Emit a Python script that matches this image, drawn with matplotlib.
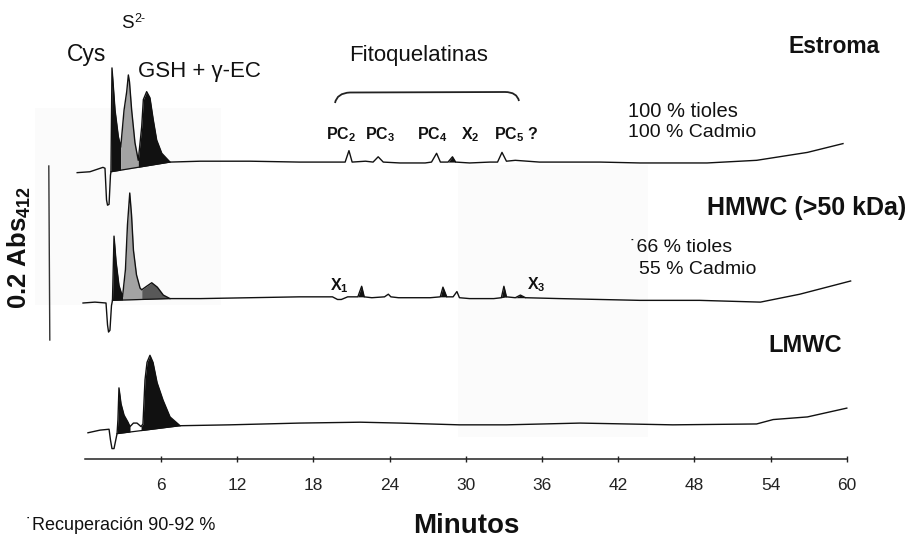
import numpy as np
import matplotlib
matplotlib.use("Agg")
import matplotlib.pyplot as plt
from matplotlib.path import Path
from matplotlib.patches import PathPatch, Rectangle

plt.rcParams['font.family'] = ['Liberation Sans', 'DejaVu Sans']
plt.rcParams['mathtext.fontset'] = 'custom'
plt.rcParams['mathtext.rm'] = 'Liberation Sans'
plt.rcParams['mathtext.bf'] = 'Liberation Sans:bold'

# retention time (min) and absorbance above each trace's own zero (Abs412)
estroma_t = [-0.6, 0.4, 1.43, 1.59, 1.71, 1.79, 1.91, 2.02, 2.06, 2.14, 2.38, 2.64, 2.83,
             3.09, 3.30, 3.43, 3.52, 3.69, 3.95, 4.21, 4.48, 4.61, 4.87, 5.13, 5.39, 5.66,
             6.06, 6.71, 9.1, 13.0, 16.9, 20.1, 20.5, 20.8, 21.05, 22.1, 22.7, 23.1, 23.5,
             24.8, 26.8, 27.3, 27.7, 28.0, 28.6, 28.95, 29.2, 30.3, 31.9, 32.5, 32.85, 33.2,
             33.9, 35.8, 40.6, 43.7, 49.0, 52.9, 56.9, 59.7]
estroma_a = [-0.003, -0.002, 0.003, 0.002, -0.034, -0.040, -0.039, -0.006, -0.002, 0.116,
             0.068, 0.038, 0.026, 0.068, 0.089, 0.108, 0.100, 0.068, 0.031, 0.011, 0.049,
             0.080, 0.089, 0.082, 0.057, 0.034, 0.019, 0.009, 0.010, 0.010, 0.009, 0.009,
             0.009, 0.022, 0.009, 0.010, 0.009, 0.015, 0.009, 0.008, 0.008, 0.009, 0.019,
             0.009, 0.009, 0.015, 0.009, 0.008, 0.009, 0.009, 0.020, 0.010, 0.011, 0.009,
             0.009, 0.008, 0.008, 0.011, 0.020, 0.030]

hmwc_t = [-0.14, 0.8, 1.67, 1.79, 1.87, 1.98, 2.10, 2.18, 2.30, 2.46, 2.69, 2.97, 3.20,
          3.36, 3.54, 3.68, 3.83, 4.07, 4.35, 4.48, 4.87, 5.27, 5.71, 6.18, 6.71, 9.1,
          13.0, 16.9, 19.5, 19.9, 20.2, 20.7, 21.5, 21.8, 22.0, 22.6, 23.6, 23.9, 24.1,
          24.7, 27.2, 27.99, 28.2, 28.5, 29.0, 29.3, 29.5, 30.3, 32.2, 32.8, 33.0, 33.2,
          33.9, 34.3, 34.7, 37.4, 43.7, 48.4, 53.2, 56.3, 60.3]
hmwc_a = [0.000, 0.001, 0.000, -0.025, -0.033, -0.031, -0.003, 0.003, 0.076, 0.047, 0.020,
          0.007, 0.038, 0.089, 0.125, 0.100, 0.060, 0.032, 0.017, 0.015, 0.019, 0.023,
          0.018, 0.009, 0.005, 0.005, 0.006, 0.007, 0.007, 0.004, 0.004, 0.007, 0.007,
          0.019, 0.007, 0.006, 0.007, 0.010, 0.007, 0.006, 0.006, 0.007, 0.018, 0.007,
          0.007, 0.013, 0.006, 0.005, 0.005, 0.006, 0.019, 0.007, 0.006, 0.009, 0.006,
          0.005, 0.003, 0.003, 0.001, 0.010, 0.025]

lmwc_t = [0.25, 1.2, 1.91, 2.02, 2.14, 2.30, 2.54, 2.61, 2.69, 2.85, 3.09, 3.40, 3.56,
          3.83, 4.11, 4.43, 4.58, 4.74, 4.90, 5.13, 5.37, 5.69, 6.16, 6.71, 7.50, 11.4,
          16.9, 21.7, 24.8, 29.5, 33.2, 39.0, 46.3, 52.9, 54.2, 56.9, 60.0]
lmwc_a = [-0.002, 0.001, 0.002, -0.010, -0.020, -0.020, -0.003, 0.013, 0.049, 0.031,
          0.018, 0.010, 0.005, 0.009, 0.009, 0.005, 0.008, 0.058, 0.078, 0.086, 0.078,
          0.055, 0.035, 0.016, 0.006, 0.007, 0.009, 0.010, 0.009, 0.007, 0.007, 0.009,
          0.007, 0.008, 0.013, 0.016, 0.026]

# peak groups: (start, end, [(from, to, shade)]) -- shaded down to the line joining start/end
estroma_fills = [(2.06, 6.71, [(2.06, 2.83, 'k'), (2.83, 4.21, 'light'), (4.21, 6.71, 'k')]),
                 (28.6, 29.2, [(28.6, 29.2, 'k')])]
hmwc_fills = [(2.18, 6.71, [(2.18, 2.97, 'k'), (2.97, 4.48, 'light'), (4.48, 6.71, 'dark')]),
              (21.5, 22.0, [(21.5, 22.0, 'k')]),
              (27.99, 28.5, [(27.99, 28.5, 'k')]),
              (32.8, 33.2, [(32.8, 33.2, 'k')]),
              (33.9, 34.7, [(33.9, 34.7, 'k')])]
lmwc_fills = [(2.54, 7.50, [(2.54, 3.56, 'k'), (4.43, 7.50, 'k')])]

ticks = [6, 12, 18, 24, 30, 36, 42, 48, 54, 60]

W, H = 915, 539
PX_MIN, X0 = 12.7, 84.8      # pixels per minute, pixel of t = 0
PX_ABS = 880.0               # pixels per Abs unit
shades = {'k': '#111111', 'light': '#a3a3a3', 'dark': '#585858'}


def P(x, y):
    return x / W, 1 - y / H


def yoff(py):
    return (H - py) / PX_ABS


fig = plt.figure(figsize=(9.15, 5.39), dpi=100)
fig.patch.set_facecolor('white')

ax = fig.add_axes([0, 0, 1, 1])
ax.set_facecolor('none')
ax.set_xlim(-X0 / PX_MIN, (W - X0) / PX_MIN)
ax.set_ylim(0, H / PX_ABS)

# faint scanner patches behind everything
for (x0, y0, x1, y1) in [(35, 108, 221, 305), (458, 165, 648, 437)]:
    ax.add_patch(Rectangle(P(x0, y1), (x1 - x0) / W, (y1 - y0) / H,
                           transform=fig.transFigure, color='#fbfbfb', lw=0, zorder=0))

traces = [(estroma_t, estroma_a, estroma_fills, yoff(170)),
          (hmwc_t, hmwc_a, hmwc_fills, yoff(303)),
          (lmwc_t, lmwc_a, lmwc_fills, yoff(431))]

for t, a, fills, off in traces:
    t = np.array(t)
    y = np.array(a) + off
    for g0, g1, segs in fills:
        yb = np.interp([g0, g1], t, y)
        base = np.interp(t, [g0, g1], yb)
        for s0, s1, shade in segs:
            m = (t >= s0) & (t <= s1)
            ax.fill_between(t, y, base, where=m, color=shades[shade], lw=0, zorder=2)
        if g1 - g0 > 2:
            ax.plot([g0, g1], yb, color='#111111', lw=0.9, zorder=3)
    ax.plot(t, y, color='#111111', lw=1.0, zorder=3)

ax.spines[['top', 'right', 'left']].set_visible(False)
ax.spines['bottom'].set_position(('data', yoff(459)))
ax.spines['bottom'].set_bounds(0, 60)
ax.spines['bottom'].set_linewidth(1.1)
ax.spines['bottom'].set_color('#222222')
ax.set_xticks(ticks)
ax.set_xticklabels([str(v) for v in ticks])
ax.tick_params(axis='x', direction='inout', length=4, width=1, pad=12,
               labelsize=12.5, colors='#222222')
ax.set_yticks([])

# scale bar
ax.plot([-36 / PX_MIN, -35 / PX_MIN], [yoff(166), yoff(340)], color='#333333', lw=1.0)

# brace over phytochelatins
verts = [P(335, 103), P(337, 93), P(350, 92.5), P(505, 92), P(517, 92), P(519, 101)]
codes = [Path.MOVETO, Path.CURVE3, Path.CURVE3, Path.LINETO, Path.CURVE3, Path.CURVE3]
fig.patches.append(PathPatch(Path(verts, codes), transform=fig.transFigure,
                             fill=False, lw=1.3, color='#222222'))

txt = dict(color='#111111')
fig.text(*P(67, 60.5), 'Cys', fontsize=16.5, va='baseline', **txt)
fig.text(*P(121, 28), 'S', fontsize=13.5, va='baseline', **txt)
fig.text(*P(134, 21.5), '2-', fontsize=9, va='baseline', **txt)
fig.text(*P(138, 77), 'GSH + γ-EC', fontsize=16, va='baseline', **txt)
fig.text(*P(349, 61.5), 'Fitoquelatinas', fontsize=16, va='baseline', **txt)

pcs = [(326, 'PC', '2'), (365, 'PC', '3'), (417, 'PC', '4'), (461, 'X', '2')]
for x, s, sub in pcs:
    fig.text(*P(x, 139), s + r'$_\mathbf{' + sub + '}$', fontsize=11.5,
             fontweight='bold', va='baseline', **txt)
fig.text(*P(494, 139), r'PC$_\mathbf{5}$ ?', fontsize=11.5, fontweight='bold',
         va='baseline', **txt)
fig.text(*P(330, 290), r'X$_\mathbf{1}$', fontsize=11.5, fontweight='bold',
         va='baseline', **txt)
fig.text(*P(527, 289), r'X$_\mathbf{3}$', fontsize=11.5, fontweight='bold',
         va='baseline', **txt)

fig.text(*P(628, 117), '100 % tioles', fontsize=14.5, va='baseline', **txt)
fig.text(*P(628, 137), '100 % Cadmio', fontsize=14, va='baseline', **txt)
fig.text(*P(630, 252), '˙66 % tioles', fontsize=14, va='baseline', **txt)
fig.text(*P(639, 274), '55 % Cadmio', fontsize=14, va='baseline', **txt)

fig.text(*P(880, 53), 'Estroma', fontsize=16.5, fontweight='bold', ha='right',
         va='baseline', **txt)
fig.text(*P(906, 215), 'HMWC (>50 kDa)', fontsize=18, fontweight='bold', ha='right',
         va='baseline', **txt)
fig.text(*P(842, 352), 'LMWC', fontsize=17, fontweight='bold', ha='right',
         va='baseline', **txt)

fig.text(*P(19, 247), r'0.2 Abs$_\mathbf{412}$', fontsize=18.5, fontweight='bold',
         rotation=90, ha='center', va='center', **txt)
fig.text(*P(466, 533), 'Minutos', fontsize=20, fontweight='bold', ha='center',
         va='baseline', **txt)
fig.text(*P(26, 530), '˙Recuperación 90-92 %', fontsize=13, va='baseline', **txt)

fig.savefig('out.png', dpi=100, facecolor='white')
